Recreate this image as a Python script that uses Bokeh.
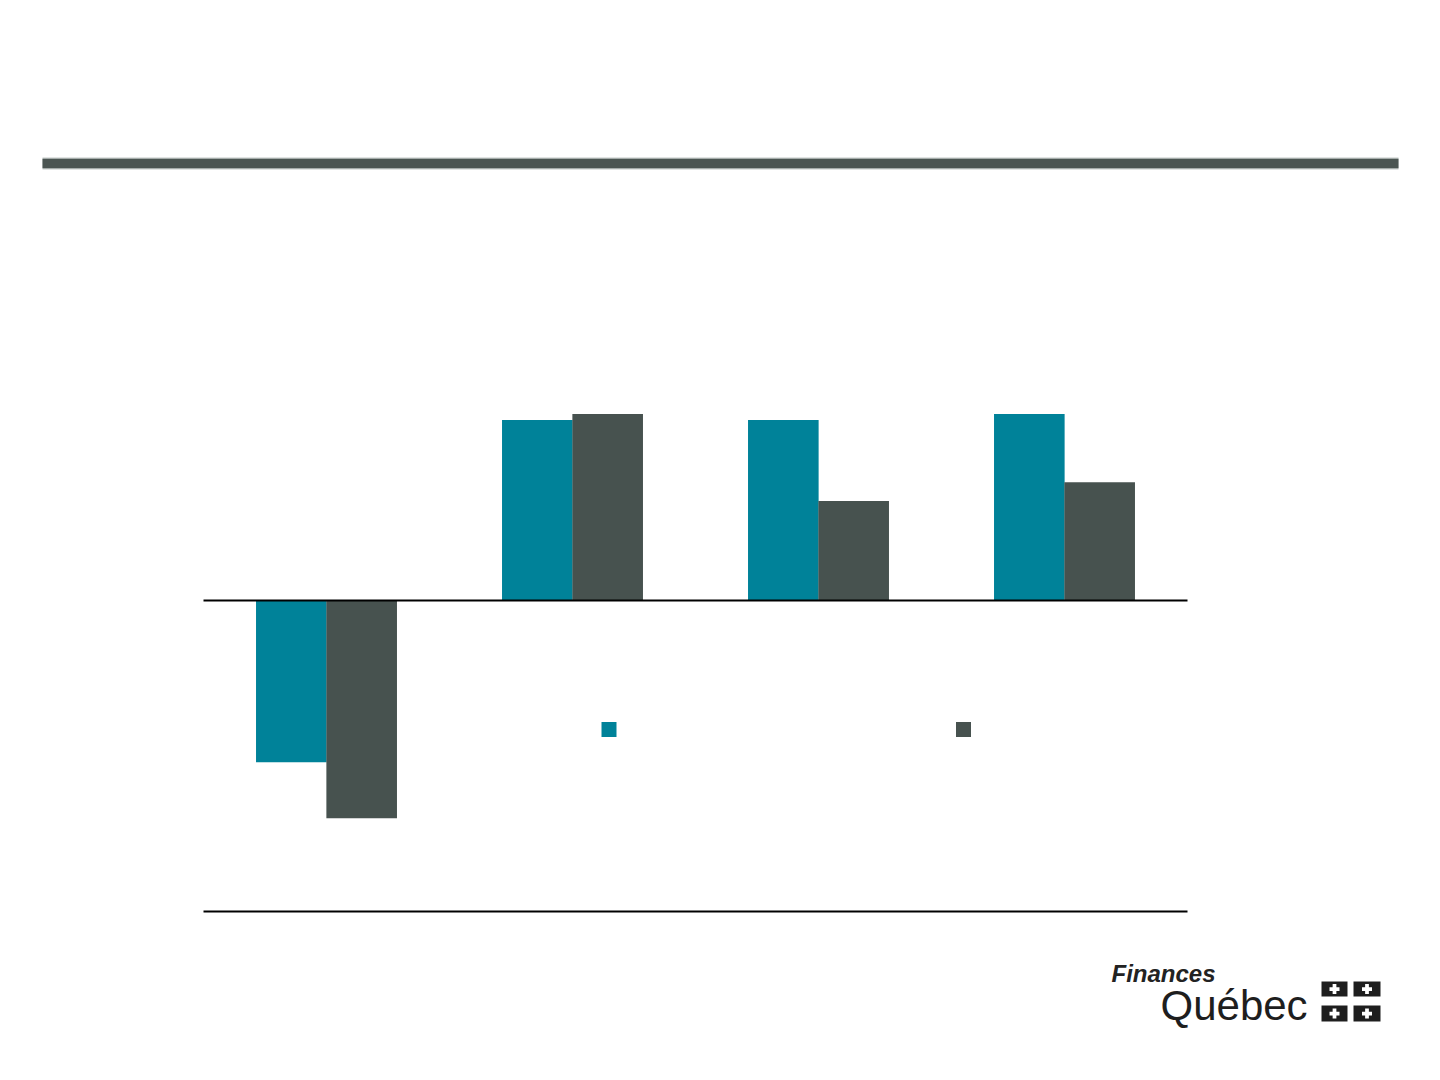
from bokeh.plotting import figure
from bokeh.models import ColumnDataSource, Range1d
from bokeh.transform import dodge
from bokeh.core.properties import value
from bokeh.embed import file_html
from bokeh.resources import INLINE

# ---- data ----
categories = ["2009", "2010", "2011", "2012"]
series_names = ["Série 1", "Série 2"]
series_a = [-2.6, 2.9, 2.9, 3.0]
series_b = [-3.5, 3.0, 1.6, 1.9]
axis_min = -5.0

# ---- layout constants (page pixels) ----
W, H = 1432, 1072
X0_PX, CAT_PX = 203, 246        # left edge of first category, width of a category
Y0_PX, UNIT_PX = 600, 62.2      # y of zero line, pixels per unit
COLORS = ["#008299", "#47524f"]
BAR_W = 0.287
OFFSET = 0.143

p = figure(width=W, height=H, output_backend="svg", toolbar_location=None,
           x_axis_type=None, y_axis_type=None,
           x_range=Range1d(-X0_PX / CAT_PX, (W - X0_PX) / CAT_PX),
           y_range=Range1d(-(H - Y0_PX) / UNIT_PX, Y0_PX / UNIT_PX),
           min_border=0)
p.outline_line_color = None
p.grid.visible = False
p.background_fill_color = "white"
p.border_fill_color = "white"
p.extra_x_ranges = {"px_x": Range1d(0, W)}
p.extra_y_ranges = {"px_y": Range1d(H, 0)}

src = ColumnDataSource(dict(
    x=[i + 0.5 for i in range(len(categories))],
    cat=categories, a=series_a, b=series_b))

p.vbar(x=dodge("x", -OFFSET), top="a", bottom=0, width=BAR_W, source=src,
       fill_color=COLORS[0], line_color=None)
p.vbar(x=dodge("x", OFFSET), top="b", bottom=0, width=BAR_W, source=src,
       fill_color=COLORS[1], line_color=None)

# axis lines (zero line and bottom line)
n = len(categories)
p.segment(x0=[0, 0], x1=[n, n], y0=[0, axis_min], y1=[0, axis_min],
          line_color="black", line_width=2)

# legend keys
p.scatter(x=[608.5, 963], y=[729, 729], marker="square", size=15,
          fill_color=COLORS, line_color=None,
          x_range_name="px_x", y_range_name="px_y")

# top rule
p.quad(left=[42], right=[1398], top=[157], bottom=[169],
       fill_color="#c3cac8", line_color=None,
       x_range_name="px_x", y_range_name="px_y")
p.quad(left=[42], right=[1398], top=[158.3], bottom=[167.7],
       fill_color="#4b5552", line_color=None,
       x_range_name="px_x", y_range_name="px_y")

# logo
p.text(x=[1111], y=[973], text=["Finances"], text_font=value("Liberation Sans"),
       text_font_style="bold italic", text_font_size="24px",
       text_baseline="alphabetic", text_color="#222222",
       x_range_name="px_x", y_range_name="px_y")
p.text(x=[1160], y=[1005], text=["Québec"], text_font=value("Liberation Sans"),
       text_font_size="42px", text_baseline="alphabetic", text_color="#1e1e1e",
       x_range_name="px_x", y_range_name="px_y")
p.quad(left=[1321, 1353, 1321, 1353], right=[1347, 1380, 1347, 1380],
       top=[981, 981, 1005, 1005], bottom=[996, 996, 1021, 1021],
       fill_color="#1e1e1e", line_color=None,
       x_range_name="px_x", y_range_name="px_y")
p.scatter(x=[1334, 1366.5, 1334, 1366.5], y=[988.5, 988.5, 1013, 1013],
          marker="plus", size=10, fill_color="white", line_color=None,
          x_range_name="px_x", y_range_name="px_y")

open("out.html", "w").write(file_html(p, INLINE))
